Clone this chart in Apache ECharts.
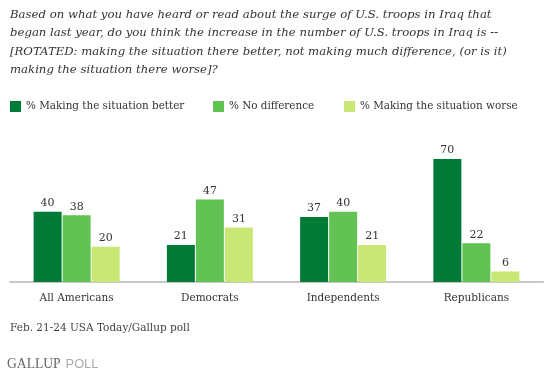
<!DOCTYPE html>
<html>
<head>
<meta charset="utf-8">
<script src="https://cdn.jsdelivr.net/npm/echarts@6/dist/echarts.min.js"></script>
<style>
  html, body { margin: 0; padding: 0; background: #fff; }
  #chart { width: 550px; height: 375px; }
</style>
</head>
<body>
<div id="chart"></div>
<script>
const categories = ['All Americans', 'Democrats', 'Independents', 'Republicans']
const seriesNames = ['% Making the situation better', '% No difference', '% Making the situation worse']
const better = [40, 21, 37, 70]
const noDiff = [38, 47, 40, 22]
const worse = [20, 31, 21, 6]

const colors = ['#007a37', '#63c254', '#c8e774']
const serif = '"DejaVu Serif", Georgia, serif'

const chart = echarts.init(document.getElementById('chart'))

const legendLefts = [10, 213, 344]

chart.setOption({
  animation: false,
  title: [
    {
      text: 'Based on what you have heard or read about the surge of U.S. troops in Iraq that\nbegan last year, do you think the increase in the number of U.S. troops in Iraq is --\n[ROTATED: making the situation there better, not making much difference, (or is it)\nmaking the situation there worse]?',
      left: 10,
      top: 6,
      padding: 0,
      textStyle: {
        fontFamily: serif,
        fontStyle: 'italic',
        fontWeight: 'normal',
        fontSize: 11.7,
        lineHeight: 18.3,
        color: '#333',
      },
    },
    {
      text: 'Feb. 21-24 USA Today/Gallup poll',
      left: 10,
      top: 323,
      padding: 0,
      textStyle: { fontFamily: serif, fontWeight: 'normal', fontSize: 10.5, color: '#444' },
    },
    {
      text: '{a|GALLUP} {b|POLL}',
      left: 7,
      top: 355,
      padding: 0,
      textStyle: {
        rich: {
          a: { fontFamily: '"Liberation Serif", serif', fontSize: 13.6, fontWeight: 'normal', color: '#666' },
          b: { fontFamily: '"Liberation Sans", Arial, sans-serif', fontSize: 12.8, fontWeight: 'normal', color: '#aaa' },
        },
      },
    },
  ],
  legend: seriesNames.map((name, i) => ({
    data: [name],
    left: legendLefts[i],
    top: 101,
    padding: 0,
    itemWidth: 11,
    itemHeight: 11,
    itemGap: 8,
    icon: 'rect',
    textStyle: { fontFamily: serif, fontSize: 10.4, color: '#333' },
    selectedMode: false,
  })),
  grid: { left: 10, right: 7, top: 106.3, bottom: 93 },
  xAxis: {
    type: 'category',
    data: categories,
    axisLine: { lineStyle: { color: '#c8c8c8', width: 2 } },
    axisTick: { show: false },
    axisLabel: { fontFamily: serif, fontSize: 10.5, color: '#333', margin: 11 },
  },
  yAxis: { type: 'value', min: 0, max: 100, show: false, splitLine: { show: false } },
  series: [better, noDiff, worse].map((data, i) => ({
    name: seriesNames[i],
    type: 'bar',
    data,
    barWidth: 28,
    barGap: '3.6%',
    itemStyle: { color: colors[i] },
    label: {
      show: true,
      position: 'top',
      distance: 3,
      fontFamily: serif,
      fontSize: 11,
      color: '#333',
    },
  })),
})
</script>
</body>
</html>
